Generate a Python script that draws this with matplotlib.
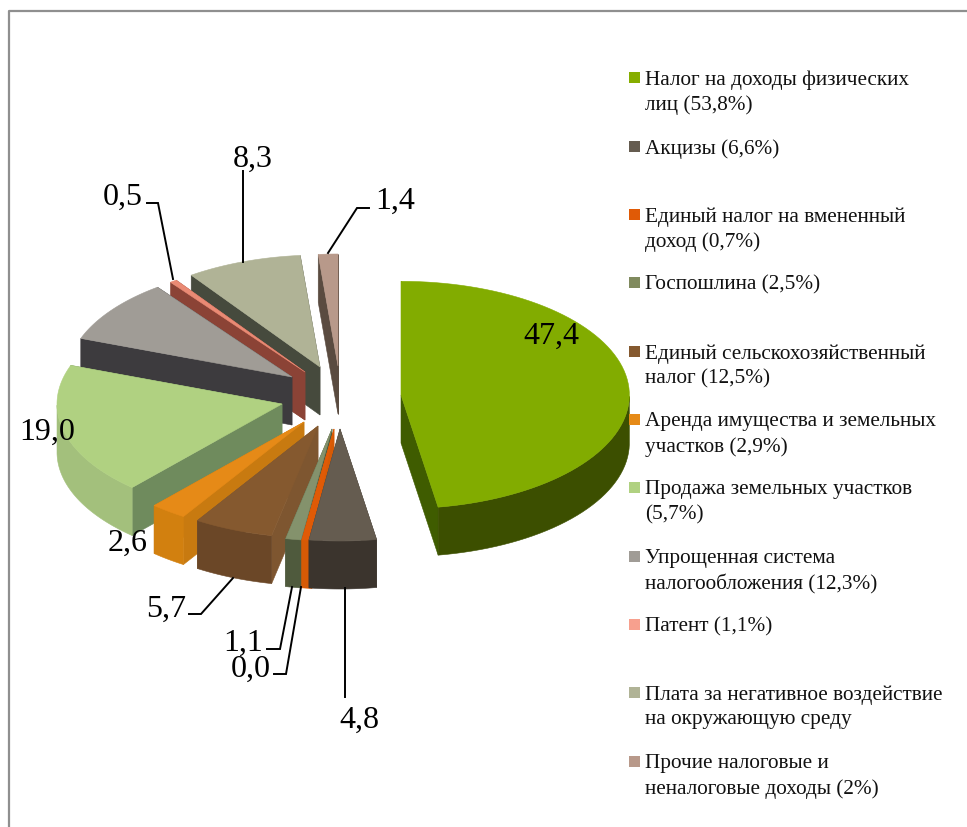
import numpy as np
import matplotlib
matplotlib.use("Agg")
import matplotlib.pyplot as plt
from matplotlib.patches import Polygon, Rectangle

plt.rcParams['font.family'] = ['Liberation Serif', 'DejaVu Serif']

# slice values as printed on the chart (order = clockwise from 12 o'clock)
values = [47.4, 4.8, 0.0, 1.1, 5.7, 2.6, 19.0, 9.2, 0.5, 8.3, 1.4]
value_labels = ['47,4', '4,8', '0,0', '1,1', '5,7', '2,6', '19,0', '', '0,5', '8,3', '1,4']

legend_texts = [
    'Налог на доходы физических\nлиц (53,8%)',
    'Акцизы (6,6%)',
    'Единый налог на вмененный\nдоход (0,7%)',
    'Госпошлина (2,5%)',
    'Единый сельскохозяйственный\nналог (12,5%)',
    'Аренда имущества и земельных\nучастков (2,9%)',
    'Продажа земельных участков\n(5,7%)',
    'Упрощенная система\nналогообложения (12,3%)',
    'Патент (1,1%)',
    'Плата за негативное воздействие\nна окружающую среду',
    'Прочие налоговые и\nненалоговые доходы (2%)',
]

top_colors = ['#82ac00', '#655c50', '#e05a06', '#84926c', '#85592f', '#e68a17',
              '#b0d181', '#a09c96', '#ea8a74', '#b0b396', '#b8998a']
cut_colors = ['#3f5c00', '#3b342d', '#d65a05', '#4f5a3d', '#7e5630', '#c87a10',
              '#6f8b5d', '#3d3b3e', '#8b4336', '#464a3d', '#5a4b40']
arc_colors = ['#3c4f00', '#3b342d', '#d65a05', '#4f5a3d', '#6b4727', '#d2800f',
              '#a3c07c', '#3d3b3e', '#8b4336', '#464a3d', '#5a4b40']
legend_colors = ['#86ad00', '#655c50', '#e05a06', '#808a5e', '#85592f', '#e68a17',
                 '#b0d181', '#a09c96', '#f7a08e', '#b0b396', '#b8998a']

# layout: where each exploded slice has its tip, in pixels
tips = [(401, 396), (340, 430), (334, 430), (332, 430), (318, 427), (304, 423),
        (282, 405), (292, 378), (305, 373), (320, 368), (338, 367)]
draw_order = [10, 9, 8, 7, 6, 5, 4, 3, 2, 1, 0]
RX, RY, DEPTH = 225, 112, 48
GREEN_SCALE = 1.015
SLIVER = (-2.3, 2.6)  # the 0,0 slice is still drawn as a thin sliver

fig = plt.figure(figsize=(9.67, 8.28), dpi=100)
ax = fig.add_axes([0, 0, 1, 1])
ax.set_xlim(0, 967)
ax.set_ylim(828, 0)
ax.axis('off')

# outer frame, only top and left reach the picture
ax.plot([9, 9, 967], [828, 12, 12], color='#8f8f8f', lw=1.6, zorder=1)

ends = np.cumsum(values) / sum(values) * 360
starts = np.concatenate([[0], ends[:-1]])


def poly(pts, col, z):
    ax.add_patch(Polygon(pts, closed=True, facecolor=col, edgecolor=col, lw=0.4, zorder=z))


z = 2
for i in draw_order:
    a0, a1 = starts[i], ends[i]
    if values[i] == 0:
        a0, a1 = a0 + SLIVER[0], a0 + SLIVER[0] + SLIVER[1]
    sc = GREEN_SCALE if i == 0 else 1
    cx, cy = tips[i]
    th = np.radians(np.linspace(a0, a1, 80))
    xs = cx + RX * sc * np.sin(th)
    ys = cy - RY * sc * np.cos(th)

    # the two flat cuts, farther one first
    cut_a = [(cx, cy), (xs[0], ys[0]), (xs[0], ys[0] + DEPTH), (cx, cy + DEPTH)]
    cut_b = [(cx, cy), (xs[-1], ys[-1]), (xs[-1], ys[-1] + DEPTH), (cx, cy + DEPTH)]
    cuts = sorted([cut_a, cut_b], key=lambda q: np.mean([p[1] for p in q]))
    for q in cuts:
        poly(q, cut_colors[i], z)
    z += 1

    # rim, only the part turned towards the viewer
    front = np.cos(th) < 0
    if front.any():
        rim = list(zip(xs[front], ys[front])) + list(zip(xs[front][::-1], ys[front][::-1] + DEPTH))
        poly(rim, arc_colors[i], z)
    z += 1

    poly([(cx, cy)] + list(zip(xs, ys)), top_colors[i], z)
    z += 1

# leader lines
leaders = [
    [(147, 204), (158, 204), (173, 280)],
    [(243, 172), (243, 263)],
    [(369, 209), (357, 209), (328, 254)],
    [(189, 615), (201, 615), (233, 579)],
    [(267, 650), (280, 650), (292, 588)],
    [(274, 675), (286, 675), (301, 588)],
    [(345, 589), (345, 698)],
]
for pts in leaders:
    ax.plot(*zip(*pts), color='black', lw=1.4, zorder=50, solid_joinstyle='miter')

# value labels
label_pos = [(551, 336), (359, 720), (251, 669), (243, 643), (166, 609), (128, 543),
             (47, 432), (0, 0), (123, 197), (253, 159), (395, 201)]
for txt, (lx, ly) in zip(value_labels, label_pos):
    if txt:
        ax.text(lx, ly, txt, fontsize=23, ha='center', va='center', color='black', zorder=60)

# legend
marker_y = [78, 147, 215, 283, 352, 420, 488, 557, 625, 693, 762]
for txt, col, my in zip(legend_texts, legend_colors, marker_y):
    ax.add_patch(Rectangle((629, my - 5), 11, 11, facecolor=col, edgecolor='none', zorder=60))
    for n, line in enumerate(txt.split('\n')):
        ax.text(645, my + 2 + n * 25, line, fontsize=15.35, ha='left', va='center', color='#111111', zorder=60)

fig.savefig('out.png', dpi=100)
